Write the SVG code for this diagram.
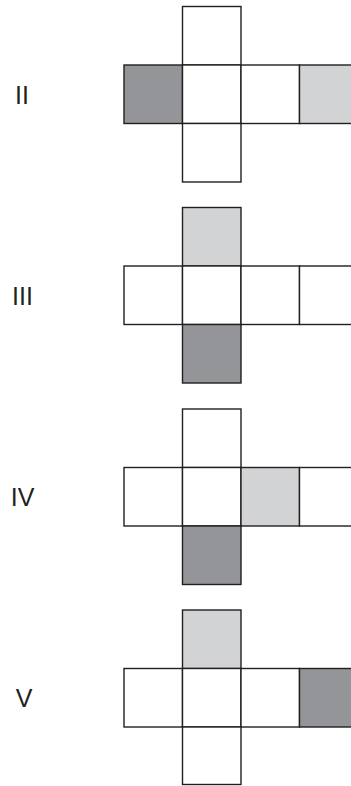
<svg xmlns="http://www.w3.org/2000/svg" width="351" height="786" viewBox="0 0 351 786">
<style>
  rect.sq { stroke: #231f20; stroke-width: 1.4; fill: #ffffff; }
  rect.dark { fill: #939598; }
  rect.light { fill: #d1d3d4; }
  text { font-family: "Liberation Sans", Arial, sans-serif; font-size: 25px; fill: #231f20; text-anchor: middle; }
</style>
<rect x="0" y="0" width="351" height="786" style="fill:#ffffff;stroke:none"/>
<g id="net-II">
  <rect class="sq" x="182.5" y="6.5" width="58.5" height="58.5"/>
  <rect class="sq dark" x="124" y="65" width="58.5" height="58.5"/>
  <rect class="sq" x="182.5" y="65" width="58.5" height="58.5"/>
  <rect class="sq" x="241" y="65" width="58.5" height="58.5"/>
  <rect class="sq light" x="299.5" y="65" width="58.5" height="58.5"/>
  <rect class="sq" x="182.5" y="123.5" width="58.5" height="58.5"/>
  <text x="22" y="104">II</text>
</g>
<g id="net-III">
  <rect class="sq light" x="182.5" y="207.5" width="58.5" height="58.5"/>
  <rect class="sq" x="124" y="266" width="58.5" height="58.5"/>
  <rect class="sq" x="182.5" y="266" width="58.5" height="58.5"/>
  <rect class="sq" x="241" y="266" width="58.5" height="58.5"/>
  <rect class="sq" x="299.5" y="266" width="58.5" height="58.5"/>
  <rect class="sq dark" x="182.5" y="324.5" width="58.5" height="58.5"/>
  <text x="22.5" y="305">III</text>
</g>
<g id="net-IV">
  <rect class="sq" x="182.5" y="409" width="58.5" height="58.5"/>
  <rect class="sq" x="124" y="467.5" width="58.5" height="58.5"/>
  <rect class="sq" x="182.5" y="467.5" width="58.5" height="58.5"/>
  <rect class="sq light" x="241" y="467.5" width="58.5" height="58.5"/>
  <rect class="sq" x="299.5" y="467.5" width="58.5" height="58.5"/>
  <rect class="sq dark" x="182.5" y="526" width="58.5" height="58.5"/>
  <text x="22.5" y="506">IV</text>
</g>
<g id="net-V">
  <rect class="sq light" x="182.5" y="610" width="58.5" height="58.5"/>
  <rect class="sq" x="124" y="668.5" width="58.5" height="58.5"/>
  <rect class="sq" x="182.5" y="668.5" width="58.5" height="58.5"/>
  <rect class="sq" x="241" y="668.5" width="58.5" height="58.5"/>
  <rect class="sq dark" x="299.5" y="668.5" width="58.5" height="58.5"/>
  <rect class="sq" x="182.5" y="727" width="58.5" height="57.5"/>
  <text x="24" y="707">V</text>
</g>
<g id="connectors"></g>
</svg>
